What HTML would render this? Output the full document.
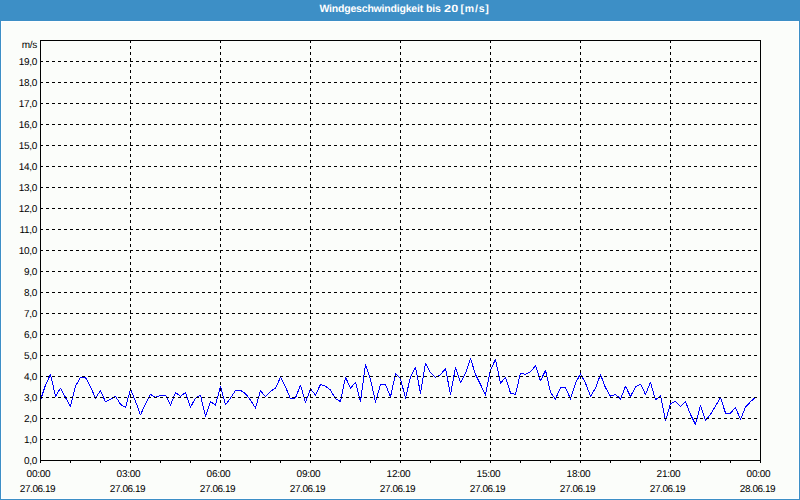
<!DOCTYPE html>
<html><head><meta charset="utf-8"><style>
html,body{margin:0;padding:0}
body{width:800px;height:500px;position:relative;overflow:hidden;background:#3d8fc6;font-family:'Liberation Sans',sans-serif}
#hdr{position:absolute;left:0;top:0;width:800px;height:20px;background:#3d8fc6;border-bottom:1px solid #3d8fc6}

.tw{position:absolute;top:3px;color:#fff;font-weight:bold;font-size:10.5px;line-height:12px;white-space:pre;text-rendering:geometricPrecision}
#body{position:absolute;left:1px;top:21px;width:796px;height:476px;background:#fbfdfa;border:1px solid #fff}
svg{position:absolute;left:0;top:0}
.g{stroke:#000;stroke-width:1;stroke-dasharray:3 3;fill:none}
.yl{position:absolute;left:0;width:37px;text-align:right;font-size:10px;line-height:12px;color:#000;letter-spacing:-0.3px;text-rendering:geometricPrecision}
.xl{position:absolute;width:77px;text-align:center;font-size:10px;line-height:12px;color:#000;letter-spacing:-0.25px;text-rendering:geometricPrecision}
</style></head><body>
<div id="hdr"><span class="tw" style="left:319.5px;letter-spacing:-0.2px">Windgeschwindigkeit</span><span class="tw" style="left:426px;letter-spacing:-0.2px">bis</span><span class="tw" style="left:443.5px;letter-spacing:0.2px;transform:scaleX(1.2);transform-origin:0 0">20</span><span class="tw" style="left:460.5px;letter-spacing:0.8px">[m/s]</span></div>
<div id="body"></div>
<svg width="800" height="500" shape-rendering="crispEdges">
<defs><clipPath id="cp"><rect x="41" y="41" width="719" height="419"/></clipPath></defs><path clip-path="url(#cp)" d="M35.5,415 L40.5,400 L45.5,385 L50.5,374.4 L55.5,396.25 L60.5,388.1 L65.5,397.5 L70.5,406.25 L75.5,386.25 L80.5,377.5 L85.5,377.5 L90.5,386.9 L95.5,398.1 L100.5,390.6 L105.5,401.9 L110.5,399.4 L115.5,396.25 L120.5,404.4 L125.5,407.5 L130.5,389.4 L135.5,401.25 L140.5,415 L145.5,403.75 L150.5,394.4 L155.5,397.25 L160.5,395.25 L165.5,395.25 L170.5,405.25 L175.5,392.5 L180.5,396.25 L185.5,392.5 L190.5,407.25 L195.5,398.1 L200.5,395.25 L205.5,416.5 L210.5,401.5 L215.5,405 L220.5,386.25 L225.5,405 L230.5,398.1 L235.5,390.6 L240.5,390.4 L245.5,393.75 L250.5,400 L255.5,408.1 L260.5,390.6 L265.5,396.9 L270.5,391.25 L275.5,388.1 L280.5,377.25 L285.5,386.9 L290.5,399 L295.5,397.75 L300.5,385.25 L305.5,402.25 L310.5,389 L315.5,395 L320.5,384.4 L325.5,386.25 L330.5,390 L335.5,398.75 L340.5,401.5 L345.5,377.25 L350.5,388.1 L355.5,382.25 L360.5,401.5 L365.5,364.4 L370.5,379.4 L375.5,402.25 L380.5,384.4 L385.5,384.4 L390.5,396.9 L395.5,373.75 L400.5,378.75 L405.5,398.1 L410.5,376.9 L415.5,367.5 L420.5,393.1 L425.5,363.5 L430.5,372.5 L435.5,377.5 L440.5,374.7 L445.5,368.5 L450.5,394.4 L455.5,367.5 L460.5,382.5 L465.5,373.1 L470.5,358.5 L475.5,374.4 L480.5,384.4 L485.5,395 L490.5,370 L495.5,359.4 L500.5,383.1 L505.5,377.25 L510.5,393.1 L515.5,394.4 L520.5,373.1 L525.5,374.4 L530.5,371.9 L535.5,365.6 L540.5,381 L545.5,370.25 L550.5,392.5 L555.5,399 L560.5,387.5 L565.5,387.5 L570.5,399 L575.5,383.1 L580.5,373.75 L585.5,383.1 L590.5,396.25 L595.5,388.1 L600.5,374.4 L605.5,387.75 L610.5,396.25 L615.5,394.4 L620.5,399 L625.5,386.25 L630.5,396.5 L635.5,386.9 L640.5,384.2 L645.5,394.4 L650.5,382.25 L655.5,400 L660.5,395.6 L665.5,421 L670.5,403.75 L675.5,401.25 L680.5,406.5 L685.5,401.5 L690.5,414.5 L695.5,424.4 L700.5,405.25 L705.5,420.75 L710.5,414.4 L715.5,406 L720.5,397.7 L725.5,413 L730.5,413 L735.5,407.5 L740.5,419.5 L745.5,407 L750.5,401.75 L755.5,397.25" stroke="#0000ff" stroke-width="1" stroke-linejoin="round" fill="none" shape-rendering="crispEdges"/>
<line x1="40" y1="439.5" x2="760" y2="439.5" class="g"/><line x1="40" y1="418.5" x2="760" y2="418.5" class="g"/><line x1="40" y1="397.5" x2="760" y2="397.5" class="g"/><line x1="40" y1="376.5" x2="760" y2="376.5" class="g"/><line x1="40" y1="355.5" x2="760" y2="355.5" class="g"/><line x1="40" y1="334.5" x2="760" y2="334.5" class="g"/><line x1="40" y1="313.5" x2="760" y2="313.5" class="g"/><line x1="40" y1="292.5" x2="760" y2="292.5" class="g"/><line x1="40" y1="271.5" x2="760" y2="271.5" class="g"/><line x1="40" y1="250.5" x2="760" y2="250.5" class="g"/><line x1="40" y1="229.5" x2="760" y2="229.5" class="g"/><line x1="40" y1="208.5" x2="760" y2="208.5" class="g"/><line x1="40" y1="187.5" x2="760" y2="187.5" class="g"/><line x1="40" y1="166.5" x2="760" y2="166.5" class="g"/><line x1="40" y1="145.5" x2="760" y2="145.5" class="g"/><line x1="40" y1="124.5" x2="760" y2="124.5" class="g"/><line x1="40" y1="103.5" x2="760" y2="103.5" class="g"/><line x1="40" y1="82.5" x2="760" y2="82.5" class="g"/><line x1="40" y1="61.5" x2="760" y2="61.5" class="g"/><line x1="130.5" y1="40" x2="130.5" y2="460" class="g"/><line x1="220.5" y1="40" x2="220.5" y2="460" class="g"/><line x1="310.5" y1="40" x2="310.5" y2="460" class="g"/><line x1="400.5" y1="40" x2="400.5" y2="460" class="g"/><line x1="490.5" y1="40" x2="490.5" y2="460" class="g"/><line x1="580.5" y1="40" x2="580.5" y2="460" class="g"/><line x1="670.5" y1="40" x2="670.5" y2="460" class="g"/>
<path d="M40.5,460V463M70.5,460V463M100.5,460V463M130.5,460V463M160.5,460V463M190.5,460V463M220.5,460V463M250.5,460V463M280.5,460V463M310.5,460V463M340.5,460V463M370.5,460V463M400.5,460V463M430.5,460V463M460.5,460V463M490.5,460V463M520.5,460V463M550.5,460V463M580.5,460V463M610.5,460V463M640.5,460V463M670.5,460V463M700.5,460V463M730.5,460V463M760.5,460V463" stroke="#000" fill="none"/>
<rect x="40.5" y="40.5" width="720" height="420" fill="none" stroke="#000"/>
</svg>
<div class="yl" style="top:40px">m/s</div>
<div class="yl" style="top:455.5px">0,0</div><div class="yl" style="top:434.5px">1,0</div><div class="yl" style="top:413.5px">2,0</div><div class="yl" style="top:392.5px">3,0</div><div class="yl" style="top:371.5px">4,0</div><div class="yl" style="top:350.5px">5,0</div><div class="yl" style="top:329.5px">6,0</div><div class="yl" style="top:308.5px">7,0</div><div class="yl" style="top:287.5px">8,0</div><div class="yl" style="top:266.5px">9,0</div><div class="yl" style="top:245.5px">10,0</div><div class="yl" style="top:224.5px">11,0</div><div class="yl" style="top:203.5px">12,0</div><div class="yl" style="top:182.5px">13,0</div><div class="yl" style="top:161.5px">14,0</div><div class="yl" style="top:140.5px">15,0</div><div class="yl" style="top:119.5px">16,0</div><div class="yl" style="top:98.5px">17,0</div><div class="yl" style="top:77.5px">18,0</div><div class="yl" style="top:56.5px">19,0</div>
<div class="xl" style="left:0px;top:469px">00:00</div><div class="xl" style="left:-1px;top:484px;letter-spacing:-0.45px">27.06.19</div><div class="xl" style="left:90px;top:469px">03:00</div><div class="xl" style="left:89px;top:484px;letter-spacing:-0.45px">27.06.19</div><div class="xl" style="left:180px;top:469px">06:00</div><div class="xl" style="left:179px;top:484px;letter-spacing:-0.45px">27.06.19</div><div class="xl" style="left:270px;top:469px">09:00</div><div class="xl" style="left:269px;top:484px;letter-spacing:-0.45px">27.06.19</div><div class="xl" style="left:360px;top:469px">12:00</div><div class="xl" style="left:359px;top:484px;letter-spacing:-0.45px">27.06.19</div><div class="xl" style="left:450px;top:469px">15:00</div><div class="xl" style="left:449px;top:484px;letter-spacing:-0.45px">27.06.19</div><div class="xl" style="left:540px;top:469px">18:00</div><div class="xl" style="left:539px;top:484px;letter-spacing:-0.45px">27.06.19</div><div class="xl" style="left:630px;top:469px">21:00</div><div class="xl" style="left:629px;top:484px;letter-spacing:-0.45px">27.06.19</div><div class="xl" style="left:720px;top:469px">00:00</div><div class="xl" style="left:719px;top:484px;letter-spacing:-0.45px">28.06.19</div>
</body></html>
